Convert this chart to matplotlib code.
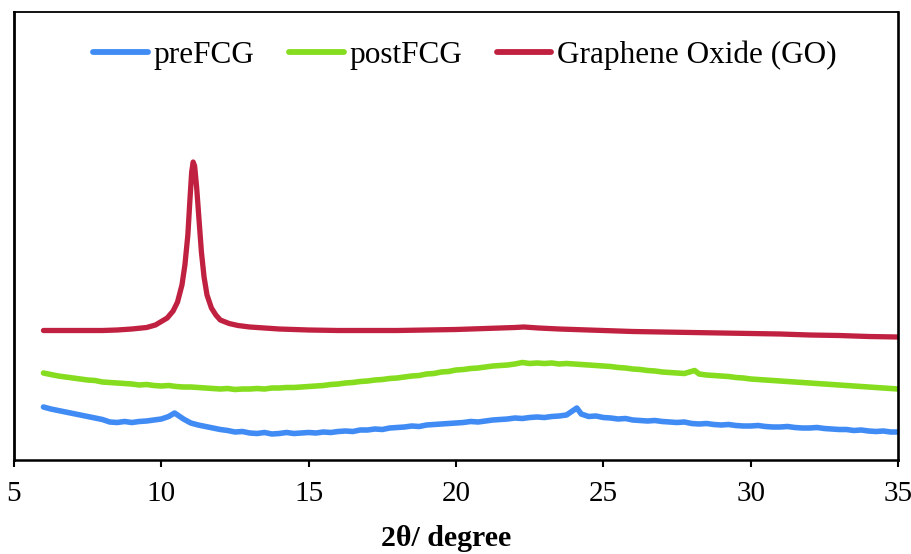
import matplotlib
matplotlib.use("Agg")
import matplotlib.pyplot as plt

# ---------------- data (arbitrary intensity units) ----------------
pre_x = [6.0, 6.25, 6.5, 6.75, 7.0, 7.25, 7.5, 7.75, 8.0, 8.25, 8.5, 8.75, 9.0, 9.25, 9.5, 9.75,
         10.0, 10.25, 10.45, 10.75, 11.0, 11.25, 11.5, 11.75, 12.0, 12.25, 12.5, 12.75, 13.0,
         13.25, 13.5, 13.75, 14.0, 14.25, 14.5, 14.75, 15.0, 15.25, 15.5, 15.75, 16.0, 16.25,
         16.5, 16.75, 17.0, 17.25, 17.5, 17.75, 18.0, 18.25, 18.5, 18.75, 19.0, 19.25, 19.5,
         19.75, 20.0, 20.25, 20.5, 20.75, 21.0, 21.25, 21.5, 21.75, 22.0, 22.25, 22.5, 22.75,
         23.0, 23.25, 23.5, 23.75, 24.1, 24.25, 24.5, 24.75, 25.0, 25.25, 25.5, 25.75, 26.0,
         26.25, 26.5, 26.75, 27.0, 27.25, 27.5, 27.75, 28.0, 28.25, 28.5, 28.75, 29.0, 29.25,
         29.5, 29.75, 30.0, 30.25, 30.5, 30.75, 31.0, 31.25, 31.5, 31.75, 32.0, 32.25, 32.5,
         32.75, 33.0, 33.25, 33.5, 33.75, 34.0, 34.25, 34.5, 34.75, 35.0]
pre_y = [53, 51, 49.5, 48, 46.5, 45, 43.5, 42, 40.5, 38, 37.5, 38.5, 37.5, 38.5, 39, 40,
         41, 43.5, 47, 41, 37, 35, 33.5, 32, 30.5, 29.5, 28, 28.5, 27,
         26.5, 27.5, 26, 26.5, 27.5, 26.5, 27, 27.5, 27, 28, 27.5, 28.5, 29,
         28.5, 30, 30, 31, 30.5, 32, 32.5, 33, 34, 33.5, 35, 35.5, 36,
         36.5, 37, 37.5, 38.5, 38, 39, 40, 40.5, 41, 42, 41.5, 42.5, 43,
         42.5, 43.5, 44, 45, 52, 46, 43.5, 44, 42.5, 42, 41, 41.5, 40,
         39.5, 39, 39.5, 38.5, 38, 37.5, 38, 36.5, 36, 36.5, 35.5, 35, 35.5,
         34.5, 34, 34, 34.5, 33.5, 33, 33, 33.5, 32.5, 32, 32, 32.5, 31.5,
         31, 30.5, 30.5, 29.5, 30, 29, 28.5, 29, 28, 28]

post_x = [6.0, 6.25, 6.5, 6.75, 7.0, 7.25, 7.5, 7.75, 8.0, 8.25, 8.5, 8.75, 9.0, 9.25, 9.5, 9.75,
          10.0, 10.25, 10.5, 10.75, 11.0, 11.25, 11.5, 11.75, 12.0, 12.25, 12.5, 12.75, 13.0,
          13.25, 13.5, 13.75, 14.0, 14.25, 14.5, 14.75, 15.0, 15.25, 15.5, 15.75, 16.0, 16.25,
          16.5, 16.75, 17.0, 17.25, 17.5, 17.75, 18.0, 18.25, 18.5, 18.75, 19.0, 19.25, 19.5,
          19.75, 20.0, 20.25, 20.5, 20.75, 21.0, 21.25, 21.5, 21.75, 22.0, 22.25, 22.5, 22.75,
          23.0, 23.25, 23.5, 23.75, 24.0, 24.25, 24.5, 24.75, 25.0, 25.25, 25.5, 25.75, 26.0,
          26.25, 26.5, 26.75, 27.0, 27.25, 27.5, 27.75, 28.1, 28.25, 28.5, 28.75, 29.0, 29.25,
          29.5, 29.75, 30.0, 30.25, 30.5, 30.75, 31.0, 31.25, 31.5, 31.75, 32.0, 32.25, 32.5,
          32.75, 33.0, 33.25, 33.5, 33.75, 34.0, 34.25, 34.5, 34.75, 35.0]
post_y = [87, 85.5, 84, 83, 82, 81, 80, 79.5, 78, 77.5, 77, 76.5, 76, 75, 75.5, 74.5,
          74, 74.5, 73.5, 73, 73, 72.5, 72, 71.5, 71, 71.5, 70.5, 71, 71,
          71.5, 71, 72, 72, 72.5, 72.5, 73, 73.5, 74, 74.5, 75.5, 76, 77,
          77.5, 78.5, 79, 80, 80.5, 81.5, 82, 83, 84, 84.5, 86, 86.5, 88,
          88.5, 90, 90.5, 91.5, 92, 93, 94, 94.5, 95, 96, 97.5, 96.5, 97,
          96.5, 97, 96, 96.5, 96, 95.5, 95, 94.5, 94, 93.5, 92.5, 92, 91,
          90.5, 89.5, 89, 88, 87.5, 87, 86.5, 89.5, 86, 85, 84.5, 84, 83.5,
          82.5, 82, 81, 80.5, 80, 79.5, 79, 78.5, 78, 77.5, 77, 76.5, 76,
          75.5, 75, 74.5, 74, 73.5, 73, 72.5, 72, 71.5, 71]

go_x = [6.0, 7.0, 8.0, 8.5, 9.0, 9.5, 9.8, 10.0, 10.2, 10.4, 10.55, 10.7, 10.8, 10.9, 10.97,
        11.03, 11.08, 11.13, 11.2, 11.28, 11.36, 11.45, 11.55, 11.7, 11.85, 12.0, 12.3, 12.6,
        13.0, 13.5, 14.0, 15.0, 16.0, 17.0, 18.0, 19.0, 20.0, 21.0, 22.0, 22.3, 22.8, 23.5,
        24.0, 25.0, 26.0, 27.0, 28.0, 29.0, 30.0, 31.0, 32.0, 33.0, 34.0, 35.0]
go_y = [129.5, 129.5, 129.5, 130, 131, 132.5, 135, 138.5, 142, 149, 158, 175, 195, 225, 260,
        288, 298, 294, 272, 240, 208, 183, 165, 152, 145, 140, 136.5, 134.5,
        133, 132, 131, 130, 129.5, 129.5, 129.5, 130, 130.5, 131.5, 132.5, 133, 132, 131,
        130.5, 129.5, 128.5, 128, 127.5, 127, 126.5, 126, 125, 124.5, 123.5, 123]

labels = ["preFCG", "postFCG", "Graphene Oxide (GO)"]
colors = ["#418CF4", "#86DC1E", "#C12140"]
x_ticks = [5, 10, 15, 20, 25, 30, 35]
x_label = "2θ/ degree"

# ---------------- figure ----------------
W, H = 911, 554
fig = plt.figure(figsize=(W / 100, H / 100), dpi=100)
L, R, B, T = 14, 898, 460, 12
ax = fig.add_axes([L / W, (H - B) / H, (R - L) / W, (B - T) / H])

serif = ["Liberation Serif", "DejaVu Serif"]

ax.plot(pre_x, pre_y, color=colors[0], lw=4.0, label=labels[0], solid_capstyle="round",
        solid_joinstyle="round")
ax.plot(post_x, post_y, color=colors[1], lw=4.0, label=labels[1], solid_capstyle="round",
        solid_joinstyle="round")
ax.plot(go_x, go_y, color=colors[2], lw=3.8, label=labels[2], solid_capstyle="round",
        solid_joinstyle="round")

ax.set_xlim(5, 35)
ax.set_ylim(0, B - T)
ax.set_xticks(x_ticks)
ax.set_xticklabels([str(t) for t in x_ticks], family=serif, fontsize=21)
ax.set_yticks([])
ax.tick_params(axis="x", direction="out", length=5, width=1.5, pad=10, colors="black")

for side, lw in [("left", 2.0), ("bottom", 1.8), ("right", 1.9), ("top", 1.3)]:
    ax.spines[side].set_linewidth(lw)
    ax.spines[side].set_color("black")

ax.set_xlabel(x_label, family=serif, fontsize=21.5, fontweight="bold", labelpad=10)
ax.xaxis.set_label_coords((446 - L) / (R - L), -0.145)
ax.xaxis.label.set_va("top")

leg = ax.legend(loc="center", bbox_to_anchor=((465 - L) / (R - L), (B - 55) / (B - T)),
                ncol=3, frameon=False, prop={"family": serif, "size": 22.5},
                handlelength=1.75, handletextpad=0.18, columnspacing=1.1, borderpad=0)
for h in leg.get_lines():
    h.set_linewidth(4.2)
    h.set_solid_capstyle("round")

fig.savefig("out.png", dpi=100)
